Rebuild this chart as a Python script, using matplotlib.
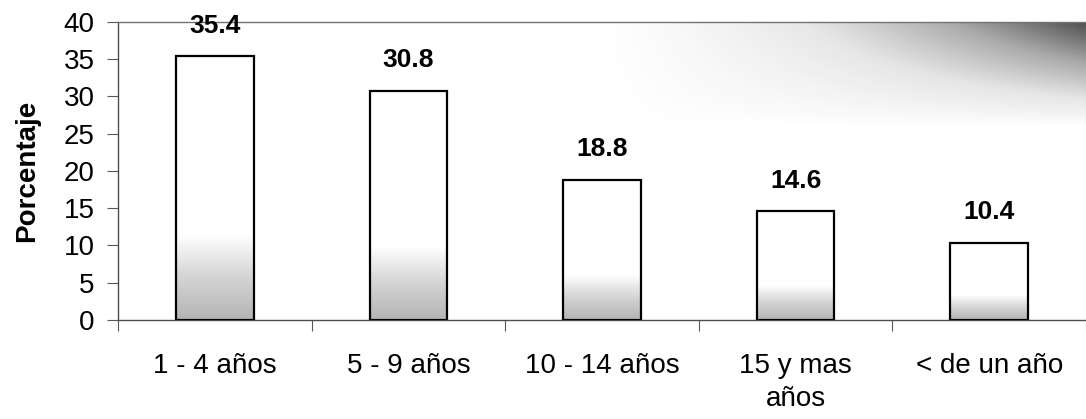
import numpy as np
import matplotlib as mpl
import matplotlib.pyplot as plt
from matplotlib.colors import LinearSegmentedColormap

categories = ["1 - 4 años", "5 - 9 años", "10 - 14 años", "15 y mas\naños", "< de un año"]
values = [35.4, 30.8, 18.8, 14.6, 10.4]
yticks = [0, 5, 10, 15, 20, 25, 30, 35, 40]

mpl.rcParams.update({
    "font.family": ["Liberation Sans", "DejaVu Sans"],
    "font.size": 20,
})

BAR_CMAP = LinearSegmentedColormap.from_list("bar", ["#b4b4b4", "#d4d4d4", "#ffffff"])
BG_CMAP = LinearSegmentedColormap.from_list("bg", ["#ffffff", "#e2e2e2", "#9a9a9a", "#333333"])

fig = plt.figure(figsize=(10.86, 4.19), dpi=100)
ax = fig.add_axes([0.1087, 0.2363, 0.8913, 0.7112])

x = np.arange(len(categories))
bars = ax.bar(x, values, width=0.4, color="none", edgecolor="black", linewidth=1.6, zorder=3)

# white-to-grey fill at the foot of every bar
for b in bars:
    x0, w, h = b.get_x(), b.get_width(), b.get_height()
    t = np.linspace(0, 1, 200)[:, None]
    grad = np.clip(t / 0.32, 0, 1)
    im = ax.imshow(grad, cmap=BAR_CMAP, vmin=0, vmax=1, origin="lower",
                   extent=(x0, x0 + w, 0, h), aspect="auto", zorder=2)
    im.set_clip_path(b)

# scanned darkening in the upper right corner
yy, xx = np.mgrid[0:1:120j, 0:1:240j]
shade = np.clip((xx - 0.5) / 0.5, 0, 1) ** 1.3 * np.clip((yy - 0.66) / 0.34, 0, 1) ** 0.8
ax.imshow(shade, cmap=BG_CMAP, vmin=0, vmax=1, origin="lower",
          extent=(-0.5, 4.5, 0, 40), aspect="auto", zorder=0, alpha=0.85)

for xi, v in zip(x, values):
    ax.annotate(f"{v:.1f}", (xi, v), xytext=(0, 22), textcoords="offset points",
                ha="center", va="center", fontsize=19, fontweight="bold",
                annotation_clip=False, zorder=5)

ax.set_xlim(-0.5, 4.5)
ax.set_ylim(0, 40)
ax.set_yticks(yticks)
ax.set_xticks(x)
ax.set_xticklabels(categories, linespacing=1.35)
ax.set_xticks(np.arange(-0.5, 5.0, 1.0), minor=True)
ax.tick_params(axis="x", which="major", length=0, pad=24, labelsize=20)
ax.tick_params(axis="x", which="minor", length=8, width=0.8, color="0.35")
ax.tick_params(axis="y", length=8, width=0.8, color="0.35", pad=9, labelsize=20)

ax.set_ylabel("Porcentaje", fontweight="bold", fontsize=20, labelpad=17)

for side in ["left", "bottom"]:
    ax.spines[side].set_color("0.3")
    ax.spines[side].set_linewidth(1.0)
ax.spines["top"].set_color("0.45")
ax.spines["top"].set_linewidth(1.0)
ax.spines["right"].set_color("0.75")
ax.spines["right"].set_linewidth(0.8)

fig.savefig("out.png", dpi=100)
